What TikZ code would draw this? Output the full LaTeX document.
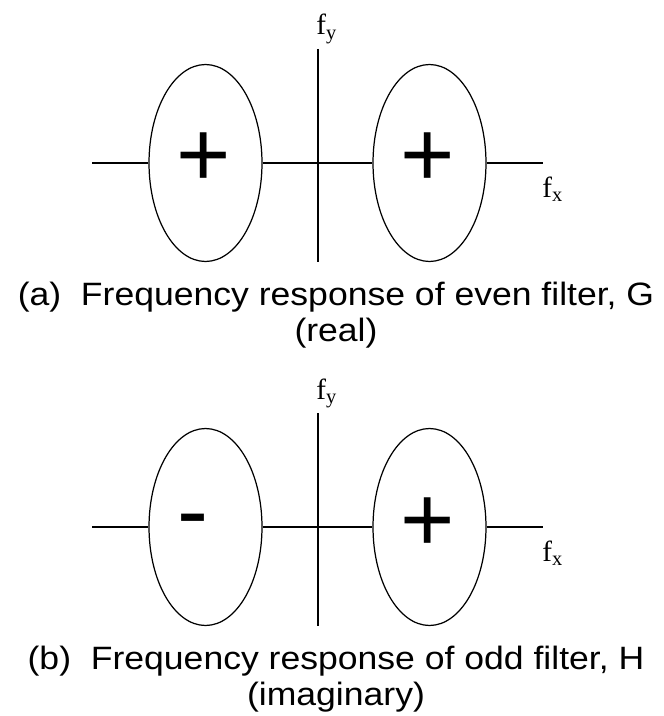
\documentclass[tikz,border=0pt]{standalone}
\usepackage{fontspec}
\setmainfont{Liberation Sans}
\newfontfamily\capfont[FakeStretch=1.1]{Liberation Sans}
\newfontfamily\axfont{Liberation Serif}
\usetikzlibrary{shapes.geometric}

\begin{document}
\begin{tikzpicture}[x=0.02cm, y=-0.02cm,
    axisline/.style={line width=1.1pt},
    lobe/.style={draw, ellipse, line width=0.7pt, minimum width=2.26cm, minimum height=3.94cm, inner sep=0pt},
    signlbl/.style={anchor=base, inner sep=0pt, font=\fontsize{53pt}{53pt}\selectfont},
    flabel/.style={anchor=base west, inner sep=0pt, font=\axfont\fontsize{16.6pt}{18pt}\selectfont},
    caplbl/.style={anchor=base, align=center, inner sep=0pt, font=\capfont\fontsize{18.4pt}{20.4pt}\selectfont}]
  \useasboundingbox (0,0) rectangle (663,716);
  \foreach \p/\oy/\sx/\sy/\sg/\flt/\kind in {a/0/204/187/+/{even filter, G}/real, b/364/193/178/-/{odd filter, H}/imaginary} {
    \node[lobe] (eL\p) at (205.5,163+\oy) {};
    \node[lobe] (eR\p) at (429.5,163+\oy) {};
    \coordinate (xl\p) at (92,163+\oy);
    \coordinate (xr\p) at (543,163+\oy);
    \coordinate (yt\p) at (318,49+\oy);
    \coordinate (yb\p) at (318,262+\oy);
    \draw[axisline] (xl\p) -- (eL\p.west) (eL\p.east) -- (eR\p.west) (eR\p.east) -- (xr\p);
    \draw[axisline] (yt\p) -- (yb\p);
    \node[signlbl] (sL\p) at (\sx,\sy+\oy) {\sg};
    \node[signlbl] (sR\p) at (428,187+\oy) {+};
    \node[flabel] (fy\p) at (316,35+\oy) {f\textsubscript{y}};
    \node[flabel] (fx\p) at (542,197+\oy) {f\textsubscript{x}};
    \node[caplbl] (cap\p) at (336,341+\oy) {(\p)~~Frequency response of \flt\\(\kind)};
  }
\end{tikzpicture}
\end{document}
